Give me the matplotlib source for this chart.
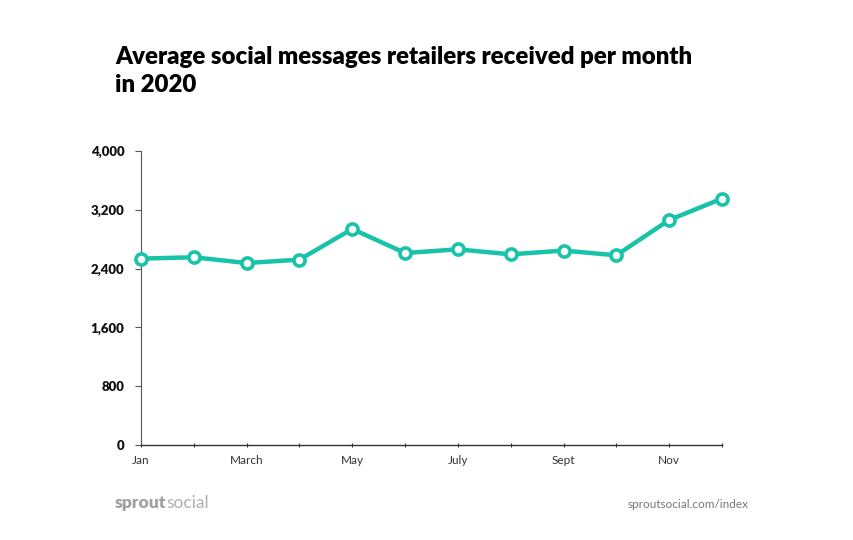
import matplotlib.pyplot as plt
import numpy as np

months = ['Jan', 'Feb', 'March', 'Apr', 'May', 'June',
          'July', 'Aug', 'Sept', 'Oct', 'Nov', 'Dec']
shown_labels = ['Jan', '', 'March', '', 'May', '', 'July', '', 'Sept', '', 'Nov', '']
messages = [2536, 2554, 2476, 2522, 2939, 2612, 2662, 2594, 2645, 2581, 3061, 3352]
yticks = [0, 800, 1600, 2400, 3200, 4000]

teal = '#18C3A9'

plt.rcParams['font.family'] = ['Lato', 'DejaVu Sans']

fig = plt.figure(figsize=(8.54, 5.40), dpi=100)
ax = fig.add_axes([0.1651, 0.1759, 0.6803, 0.5445])

x = np.arange(len(months))
ax.plot(x, messages, color=teal, lw=3.2, marker='o', ms=8,
        mfc='white', mec=teal, mew=2.6, zorder=3, clip_on=False)

ax.set_xlim(0, len(months) - 1)
ax.set_ylim(0, 4000)
ax.set_xticks(x)
ax.set_xticklabels(shown_labels, fontsize=8.5, color='#333333')
ax.set_yticks(yticks)
ax.set_yticklabels(['{:,}'.format(v) for v in yticks], fontsize=9.5,
                   fontweight='heavy', color='#111111')

for s in ['top', 'right']:
    ax.spines[s].set_visible(False)
ax.spines['left'].set_color('#555555')
ax.spines['bottom'].set_color('#333333')
ax.spines['left'].set_linewidth(0.8)
ax.spines['bottom'].set_linewidth(1.0)
ax.tick_params(axis='y', length=4, width=0.8, color='#555555', pad=8)
ax.tick_params(axis='x', length=3, width=0.8, color='#333333',
               direction='inout', pad=6)

fig.text(0.1347, 0.915, 'Average social messages retailers received per month\nin 2020',
         fontsize=17.3, fontweight='heavy', color='#000000', va='top', ha='left',
         linespacing=1.35)

# footer
t1 = fig.text(0.1347, 0.068, 'sprout', fontsize=12.5, fontweight='heavy',
              color='#a0a0a0', va='center', ha='left')
fig.canvas.draw()
bb = t1.get_window_extent()
fig.text(bb.x1 / fig.bbox.width, 0.068, 'social', fontsize=12.5,
         fontweight='normal', color='#b0b0b0', va='center', ha='left')
fig.text(0.877, 0.066, 'sproutsocial.com/index', fontsize=8.5,
         color='#777777', va='center', ha='right')

fig.savefig('out.png', dpi=100)
